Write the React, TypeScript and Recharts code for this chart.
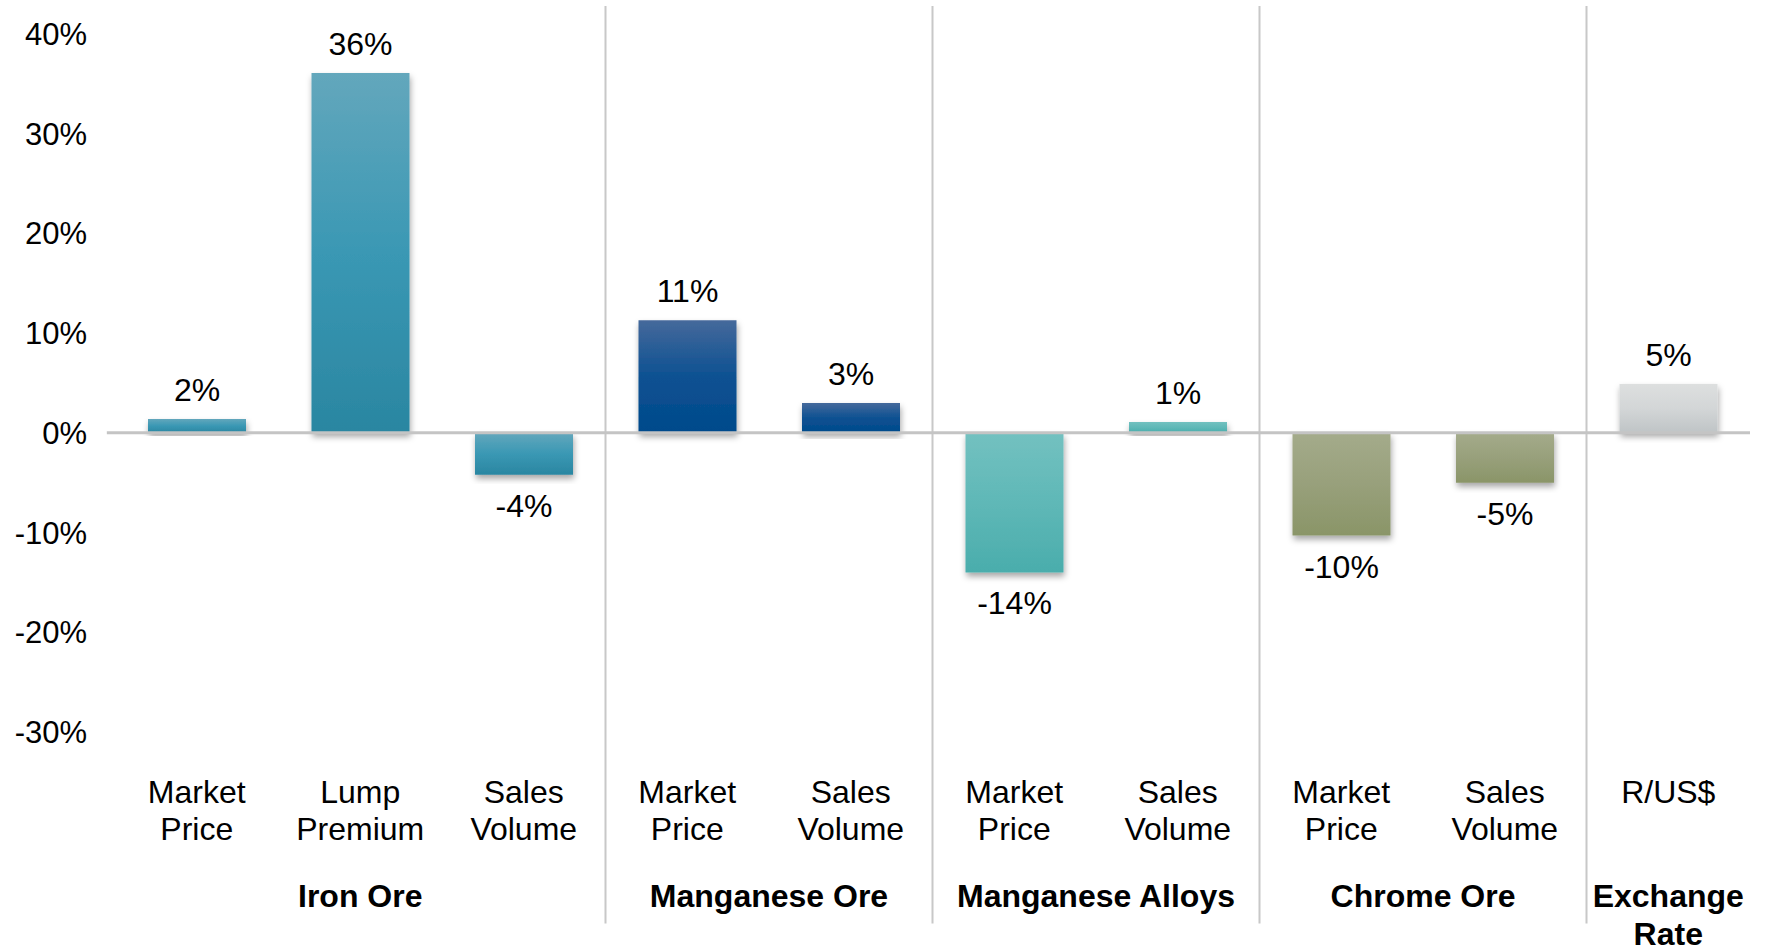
import React from "react";
import { BarChart, Bar, XAxis, YAxis, Cell, LabelList, ReferenceLine } from "recharts";

const categoryLines: string[][] = [
  ["Market", "Price"],
  ["Lump", "Premium"],
  ["Sales", "Volume"],
  ["Market", "Price"],
  ["Sales", "Volume"],
  ["Market", "Price"],
  ["Sales", "Volume"],
  ["Market", "Price"],
  ["Sales", "Volume"],
  ["R/US$"],
];
const changes = [1.4, 36.1, -4.2, 11.3, 3.0, -14.0, 1.1, -10.3, -5.0, 4.9];
const changeLabels = ["2%", "36%", "-4%", "11%", "3%", "-14%", "1%", "-10%", "-5%", "5%"];
const groupLines: string[][] = [
  ["Iron Ore"],
  ["Manganese Ore"],
  ["Manganese Alloys"],
  ["Chrome Ore"],
  ["Exchange", "Rate"],
];
const groupSizes = [3, 2, 2, 2, 1];
const yTicks = [-30, -20, -10, 0, 10, 20, 30, 40];

const groupGradients = [
  { id: "gIron", top: "#63a7bc", mid: "#3a98b4", bottom: "#2a86a1" },
  { id: "gMnOre", top: "#45699b", mid: "#0d5192", bottom: "#004a8b" },
  { id: "gMnAlloy", top: "#73c1c0", mid: "#5fb8b7", bottom: "#4aadac" },
  { id: "gChrome", top: "#a4ab8b", mid: "#98a07b", bottom: "#8a9568" },
  { id: "gFx", top: "#dddfdf", mid: "#d3d6d7", bottom: "#bfc4c6" },
];

const FONT = "'Liberation Sans', Arial, Helvetica, sans-serif";

const groupStarts: number[] = [];
{
  let acc = 0;
  groupSizes.forEach((s) => {
    groupStarts.push(acc);
    acc += s;
  });
}
const groupOf: number[] = [];
groupSizes.forEach((s, g) => {
  for (let k = 0; k < s; k++) groupOf.push(g);
});
const groupCenters = groupStarts.map((s, g) => s + groupSizes[g] / 2);
const boundaries = groupStarts.slice(1);
const catTicks = changes.map((_, i) => i + 0.5);
const total = changes.length;

const data = changes.map((v, i) => ({ pos: i + 0.5, value: v, group: groupOf[i] }));

const CatTick = (props: any) => {
  const { x, y, payload } = props;
  const idx = Math.floor(payload.value);
  const lines = categoryLines[idx] || [];
  return (
    <text x={x} y={y} textAnchor="middle" fontSize={32} fontFamily={FONT} fill="#000">
      {lines.map((l, i) => (
        <tspan key={i} x={x} dy={i === 0 ? 71 : 37}>
          {l}
        </tspan>
      ))}
    </text>
  );
};

const GroupTick = (props: any) => {
  const { x, y, payload } = props;
  const g = groupCenters.findIndex((c) => Math.abs(c - payload.value) < 1e-6);
  const lines = groupLines[g] || [];
  return (
    <text x={x} y={y} textAnchor="middle" fontSize={32} fontWeight="bold" fontFamily={FONT} fill="#000">
      {lines.map((l, i) => (
        <tspan key={i} x={x} dy={i === 0 ? 35 : 38}>
          {l}
        </tspan>
      ))}
    </text>
  );
};

const ValueLabel = (props: any) => {
  const { x, y, width, height, index } = props;
  const v = changes[index];
  const top = Math.min(y, y + height);
  const bottom = Math.max(y, y + height);
  const cx = x + width / 2;
  const baseline = v >= 0 ? top - 18 : bottom + 42;
  return (
    <text x={cx} y={baseline} textAnchor="middle" fontSize={32} fontFamily={FONT} fill="#000">
      {changeLabels[index]}
    </text>
  );
};

export default function App() {
  return (
    <div style={{ position: "absolute", left: 0, top: 0, width: 1766, height: 952, background: "#fff" }}>
      <BarChart
        width={1766}
        height={952}
        data={data}
        margin={{ top: 34, right: 16, left: 0, bottom: 0 }}
      >
        <defs>
          {groupGradients.map((g) => (
            <linearGradient key={g.id} id={g.id} x1="0" y1="0" x2="0" y2="1">
              <stop offset="0%" stopColor={g.top} />
              <stop offset="50%" stopColor={g.mid} />
              <stop offset="100%" stopColor={g.bottom} />
            </linearGradient>
          ))}
          <filter id="barShadow" x="-20%" y="-20%" width="140%" height="140%">
            <feDropShadow dx="1" dy="4" stdDeviation="3" floodColor="#000" floodOpacity="0.35" />
          </filter>
        </defs>
        <XAxis
          xAxisId="cat"
          dataKey="pos"
          type="number"
          domain={[0, total]}
          allowDataOverflow={true}
          ticks={catTicks}
          interval={0}
          tick={<CatTick />}
          tickLine={false}
          axisLine={false}
          tickSize={0}
          tickMargin={0}
          height={140}
        />
        <XAxis
          xAxisId="grp"
          dataKey="pos"
          type="number"
          domain={[0, total]}
          allowDataOverflow={true}
          ticks={groupCenters}
          interval={0}
          tick={<GroupTick />}
          tickLine={false}
          axisLine={false}
          tickSize={0}
          tickMargin={0}
          height={80}
        />
        <YAxis
          domain={[-30, 40]}
          ticks={yTicks}
          interval={0}
          tickFormatter={(v: number) => `${v}%`}
          axisLine={false}
          tickLine={false}
          tickSize={0}
          tickMargin={28}
          width={115}
          tick={{ fontSize: 31, fill: "#000", fontFamily: FONT }}
        />
        <Bar
          xAxisId="cat"
          dataKey="value"
          barSize={98}
          isAnimationActive={false}
        >
          {data.map((d, i) => (
            <Cell key={i} fill={`url(#${groupGradients[d.group].id})`} filter="url(#barShadow)" />
          ))}
          <LabelList dataKey="value" content={<ValueLabel />} />
        </Bar>
        {boundaries.map((b) => (
          <ReferenceLine
            key={b}
            xAxisId="cat"
            segment={[
              { x: b, y: 42.8 },
              { x: b, y: -49.2 },
            ]}
            stroke="#c8c8c8"
            strokeWidth={2}
            ifOverflow="visible"
          />
        ))}
        <ReferenceLine
          xAxisId="cat"
          segment={[
            { x: -0.05, y: 0 },
            { x: total, y: 0 },
          ]}
          stroke="#c4c4c4"
          strokeWidth={3}
          ifOverflow="visible"
        />
      </BarChart>
    </div>
  );
}
